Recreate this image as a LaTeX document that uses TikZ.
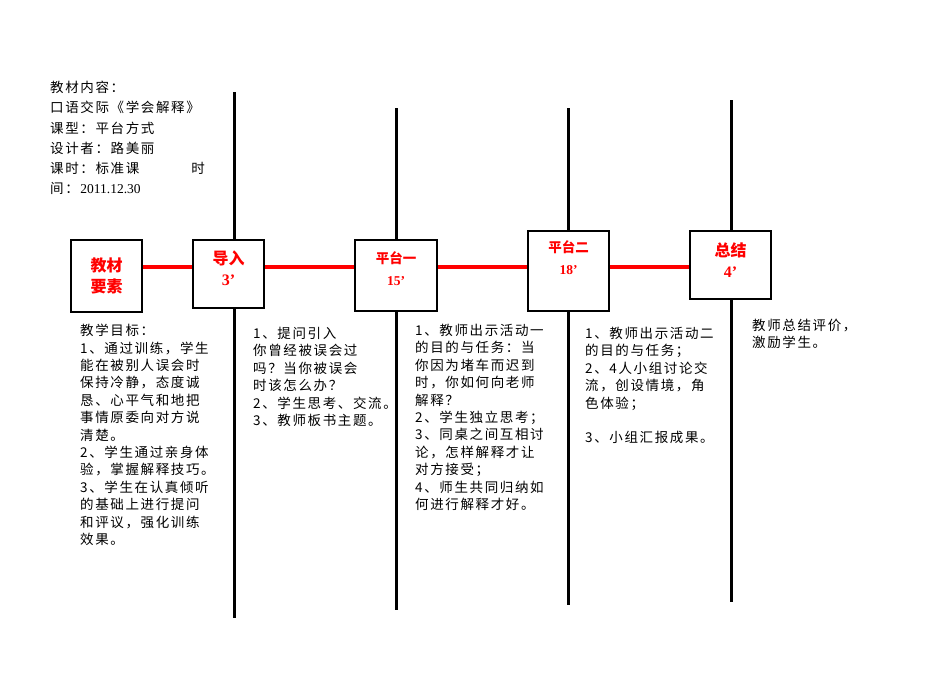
\documentclass[tikz,border=0pt]{standalone}
\usepackage{fontspec}
\setmainfont{Liberation Serif}
\newfontfamily\cjk{Noto Sans CJK SC}
\newfontfamily\cjkw[LetterSpace=12]{Noto Sans CJK SC}
\begin{document}
\begin{tikzpicture}[x=1pt,y=-1pt,
  vline/.style={line width=3pt},
  redl/.style={red,line width=4pt},
  sbox/.style={draw,line width=1.6pt,fill=white,inner sep=0pt},
  btxt/.style={text=red,font=\cjk\bfseries\fontsize{16}{21}\selectfont,align=center},
  body/.style={anchor=north west,inner sep=0pt,align=left,font=\cjkw\fontsize{13.5}{17.4}\selectfont}]
\useasboundingbox (0,0) rectangle (950,672);
\coordinate (v1t) at (234,92); \coordinate (v1b) at (234,618);
\coordinate (v2t) at (396,108); \coordinate (v2b) at (396,610);
\coordinate (v3t) at (568,108); \coordinate (v3b) at (568,605);
\coordinate (v4t) at (731,100); \coordinate (v4b) at (731,602);
\draw[vline] (v1t)--(v1b); \draw[vline] (v2t)--(v2b);
\draw[vline] (v3t)--(v3b); \draw[vline] (v4t)--(v4b);
\coordinate (rl) at (127,267); \coordinate (rr) at (700,267);
\draw[redl] (rl)--(rr);
\node[sbox,minimum width=71,minimum height=72] (b1) at (106.5,276) {};
\node[btxt] (t1) at (b1) {教材\\要素};
\node[sbox,minimum width=71,minimum height=68] (b2) at (228.5,274) {};
\node[btxt] (t2) at (228.5,268) {导入\\\textrm{3’}};
\node[sbox,minimum width=82,minimum height=71] (b3) at (396,275.5) {};
\node[btxt,font=\cjk\bfseries\fontsize{13.5}{22}\selectfont] (t3) at (396,269) {平台一\\\textrm{15’}};
\node[sbox,minimum width=81,minimum height=80] (b4) at (568.5,271) {};
\node[btxt,font=\cjk\bfseries\fontsize{13.5}{22}\selectfont] (t4) at (568.5,258) {平台二\\\textrm{18’}};
\node[sbox,minimum width=81,minimum height=68] (b5) at (730.5,265) {};
\node[btxt] (t5) at (730.5,260) {总结\\\textrm{4’}};
\node[body,font=\cjkw\fontsize{13.5}{20.2}\selectfont] (hdr) at (50,81) {教材内容：\\口语交际《学会解释》\\课型：平台方式\\设计者：路美丽\\课时：标准课\hspace{52pt}时\\间：\textrm{2011.12.30}};
\node[body] (c1) at (80,324) {教学目标：\\1、通过训练，学生\\能在被别人误会时\\保持冷静，态度诚\\恳、心平气和地把\\事情原委向对方说\\清楚。\\2、学生通过亲身体\\验，掌握解释技巧。\\3、学生在认真倾听\\的基础上进行提问\\和评议，强化训练\\效果。};
\node[body] (c2) at (253,327) {1、提问引入\\你曾经被误会过\\吗？当你被误会\\时该怎么办？\\2、学生思考、交流。\\3、教师板书主题。};
\node[body] (c3) at (415,324) {1、教师出示活动一\\的目的与任务：当\\你因为堵车而迟到\\时，你如何向老师\\解释？\\2、学生独立思考；\\3、同桌之间互相讨\\论，怎样解释才让\\对方接受；\\4、师生共同归纳如\\何进行解释才好。};
\node[body] (c4) at (585,327) {1、教师出示活动二\\的目的与任务；\\2、4人小组讨论交\\流，创设情境，角\\色体验；\\\\3、小组汇报成果。};
\node[body] (c5) at (752,319) {教师总结评价，\\激励学生。};
\end{tikzpicture}
\end{document}
